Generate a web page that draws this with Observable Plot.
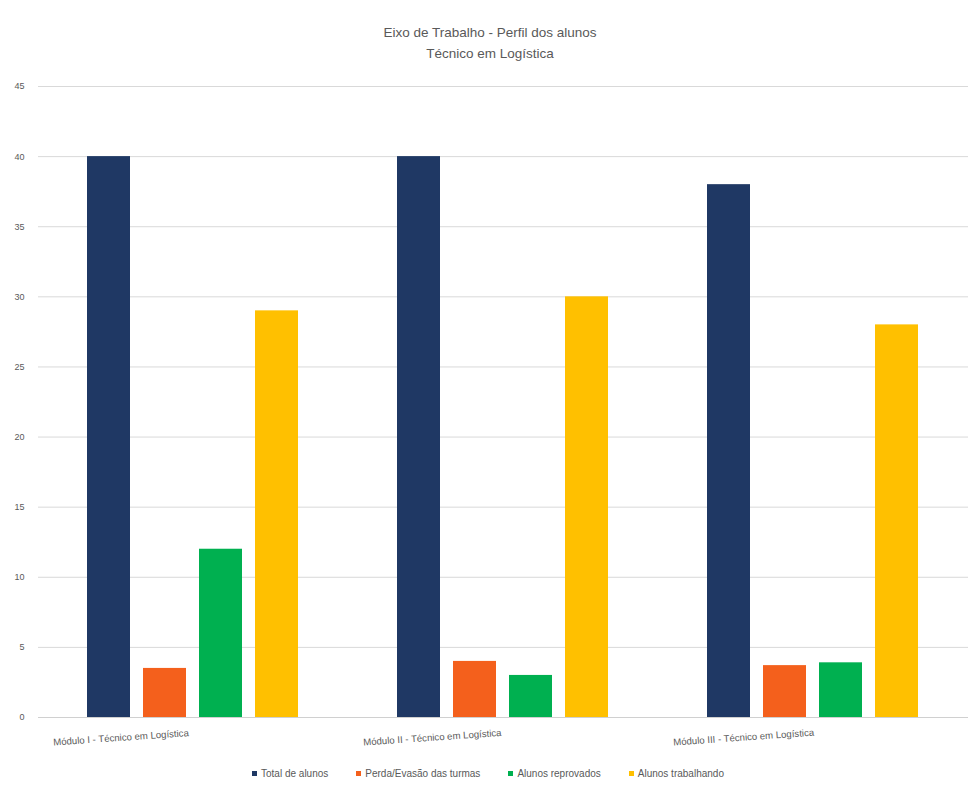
<!DOCTYPE html>
<html>
<head>
<meta charset="utf-8">
<script src="https://cdn.jsdelivr.net/npm/d3@7"></script>
<script src="https://cdn.jsdelivr.net/npm/@observablehq/plot@0.6"></script>
<style>
  html, body { margin: 0; padding: 0; background: #fff; }
  body { width: 968px; height: 787px; font-family: "Liberation Sans", Arial, sans-serif; position: relative; overflow: hidden; }
  #title { position: absolute; top: 22px; left: 0; width: 980px; text-align: center; color: #595959; font-size: 13.5px; line-height: 21px; }
  #chart { position: absolute; top: 65px; left: 0; }
  #legend { position: absolute; top: 768px; left: 0; width: 976px; display: flex; justify-content: center; gap: 28px; color: #595959; font-size: 10px; }
  #legend span.item { display: inline-flex; align-items: center; }
  #legend span.sw { width: 5px; height: 5px; display: inline-block; margin-right: 4px; }
</style>
</head>
<body>
<div id="title">Eixo de Trabalho - Perfil dos alunos<br>Técnico em Logística</div>
<div id="chart"></div>
<div id="legend"></div>
<script>
const groups = ["Módulo I - Técnico em Logística", "Módulo II - Técnico em Logística", "Módulo III - Técnico em Logística"];
const series = ["Total de alunos", "Perda/Evasão das turmas", "Alunos reprovados", "Alunos trabalhando"];
const colors = ["#1f3864", "#f4601c", "#00b050", "#ffc000"];
const totalAlunos = [40, 40, 38];
const perdaEvasao = [3.5, 4, 3.7];
const reprovados = [12, 3, 3.9];
const trabalhando = [29, 30, 28];
const yTicks = [0, 5, 10, 15, 20, 25, 30, 35, 40, 45];

const valuesBySeries = [totalAlunos, perdaEvasao, reprovados, trabalhando];
const data = [];
groups.forEach((g, gi) => series.forEach((s, si) => data.push({group: g, series: s, value: valuesBySeries[si][gi]})));

const chart = Plot.plot({
  width: 968,
  height: 700,
  marginLeft: 37,
  marginRight: 0,
  marginTop: 21,
  marginBottom: 48,
  style: {fontFamily: "Liberation Sans, Arial, sans-serif", background: "transparent"},
  fx: {domain: groups, padding: 0, axis: null},
  x: {domain: series, paddingInner: 0.23, paddingOuter: 0.86, axis: null},
  y: {domain: [0, 45]},
  color: {domain: series, range: colors},
  marks: [
    Plot.gridY(yTicks, {stroke: "#d9d9d9", strokeOpacity: 1}),
    Plot.axisY(yTicks, {tickSize: 0, tickPadding: 14, fontSize: 9, fill: "#595959", label: null}),
    Plot.barY(data, {fx: "group", x: "series", y: "value", fill: "series"}),
    Plot.ruleY([0], {stroke: "#d0d0d0"}),
    Plot.text(groups, {fx: d => d, text: d => d, frameAnchor: "bottom-left", dx: 15, dy: 28, rotate: -4, textAnchor: "start", fontSize: 9.6, fill: "#595959"})
  ]
});
document.getElementById("chart").appendChild(chart);

const legend = document.getElementById("legend");
series.forEach((s, i) => {
  const item = document.createElement("span");
  item.className = "item";
  const sw = document.createElement("span");
  sw.className = "sw";
  sw.style.background = colors[i];
  item.appendChild(sw);
  item.appendChild(document.createTextNode(s));
  legend.appendChild(item);
});
</script>
</body>
</html>
